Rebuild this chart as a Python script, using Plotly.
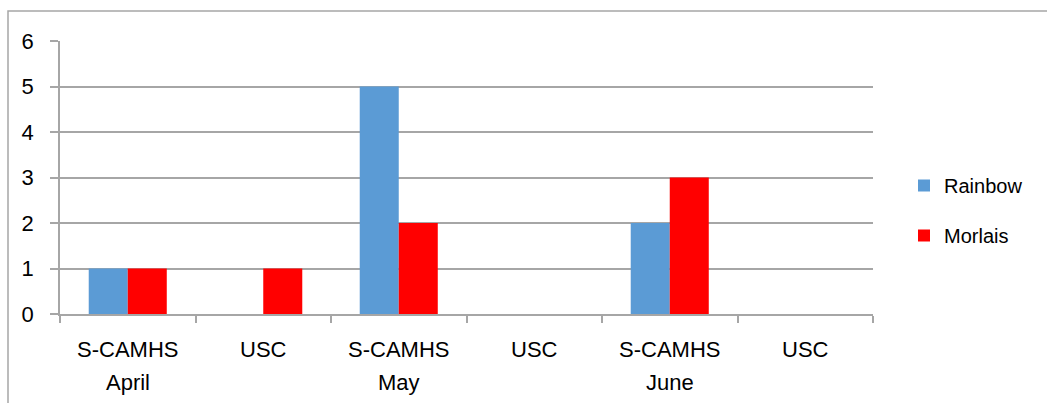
import plotly.graph_objects as go

# Data
categories = ["S-CAMHS", "USC", "S-CAMHS", "USC", "S-CAMHS", "USC"]
months = ["April", "May", "June"]
rainbow = [1, 0, 5, 0, 2, 0]
morlais = [1, 1, 2, 0, 3, 0]
y_ticks = [0, 1, 2, 3, 4, 5, 6]

W, H = 1047, 403
L, R, T, B = 60, 174, 41, 89
pw, ph = W - L - R, H - T - B
grid = "#a6a6a6"
font = "Liberation Sans, Arial, sans-serif"

x = list(range(len(categories)))

fig = go.Figure()
fig.add_trace(go.Bar(x=x, y=rainbow, name="Rainbow", marker_color="#5B9BD5",
                     marker_line_width=0, legendgroup="a"))
fig.add_trace(go.Bar(x=x, y=morlais, name="Morlais", marker_color="#FF0000",
                     marker_line_width=0, legendgroup="b"))

# month labels under the S-CAMHS categories
for i, m in enumerate(months):
    fig.add_annotation(x=x[i * 2], y=0, xref="x", yref="paper", text=m,
                       showarrow=False, yanchor="middle", yshift=-68,
                       font=dict(size=22, color="#000", family=font))

# outer chart frame
def px2x(p):
    return (p - L) / pw

def py2y(p):
    return (H - B - p) / ph

fig.add_shape(type="rect", xref="paper", yref="paper",
              x0=px2x(8), x1=px2x(1060), y0=py2y(420), y1=py2y(11),
              line=dict(color=grid, width=1.5), fillcolor="rgba(0,0,0,0)", layer="below")

fig.update_layout(
    width=W, height=H,
    margin=dict(l=L, r=R, t=T, b=B, autoexpand=False),
    paper_bgcolor="white", plot_bgcolor="white",
    barmode="group", bargap=0.424, bargroupgap=0,
    font=dict(family=font, size=22, color="#000"),
    legend=dict(x=px2x(904), xanchor="left", y=py2y(166), yanchor="top",
                font=dict(size=20), traceorder="grouped", tracegroupgap=21,
                bgcolor="rgba(0,0,0,0)"),
    xaxis=dict(range=[-0.5, 5.5], tickmode="array", tickvals=x, ticktext=categories,
               ticks="", showline=True, linecolor=grid, linewidth=1.5,
               showgrid=False, zeroline=False, ticklabelstandoff=15,
               minor=dict(tickmode="array", tickvals=[i - 0.5 for i in range(7)],
                          ticks="outside", ticklen=7, tickcolor=grid, tickwidth=1.5,
                          showgrid=False)),
    yaxis=dict(range=[0, 6], tickmode="array", tickvals=y_ticks,
               ticks="outside", ticklen=8, tickcolor=grid, tickwidth=1.5,
               showline=True, linecolor=grid, linewidth=1.5,
               showgrid=True, gridcolor=grid, gridwidth=1.5, zeroline=False,
               ticklabelstandoff=12),
)

fig.write_html("out.html", config={"displayModeBar": False},
               post_script="document.body.style.margin='0px';")
